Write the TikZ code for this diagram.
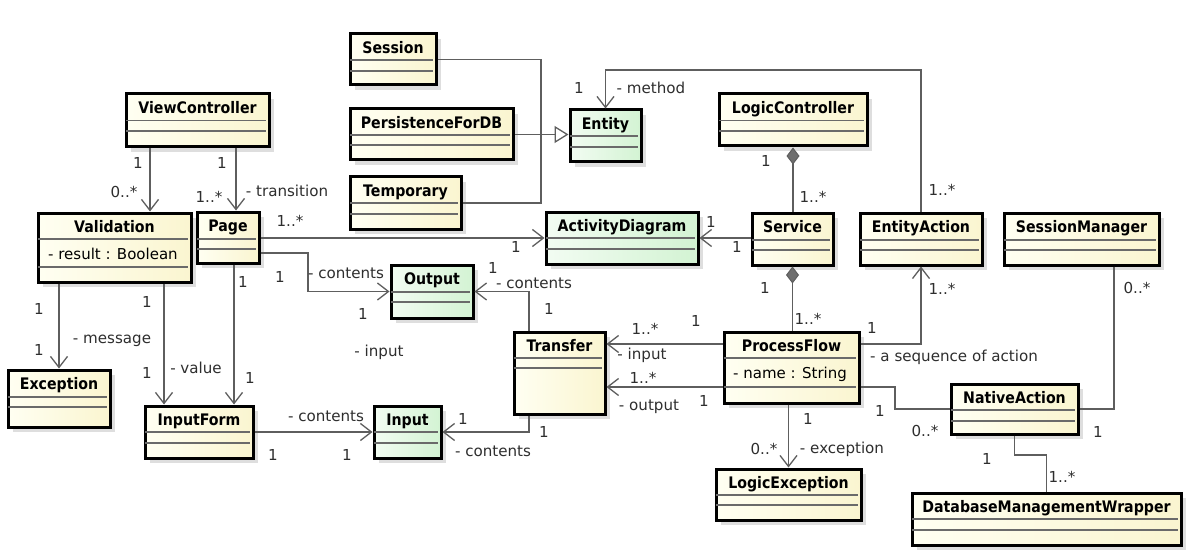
\documentclass[tikz,border=0pt]{standalone}
\usepackage{fontspec}
\setmainfont{DejaVu Sans}
\newfontfamily\namefont[FakeStretch=0.89]{DejaVu Sans}
\usetikzlibrary{arrows.meta,shadows,calc}
\definecolor{ylA}{HTML}{FFFFF2}
\definecolor{ylB}{HTML}{FAF5D0}
\definecolor{grA}{HTML}{F2FCF2}
\definecolor{grB}{HTML}{D3F3D3}
\definecolor{linecol}{HTML}{5E5E5E}
\definecolor{cmpcol}{HTML}{6A6A6A}
\definecolor{lblcol}{HTML}{2E2E2E}
\definecolor{diamcol}{HTML}{6E6E6E}
\tikzset{
  clsbox/.style={draw=black, line width=3pt, inner sep=0pt, text height=19.5pt,
    font=\namefont\bfseries\fontsize{15.9}{18}\selectfont,
    drop shadow={shadow xshift=5pt, shadow yshift=-5pt, fill=black!13, opacity=1}},
  yel/.style={left color=ylA, right color=ylB},
  grn/.style={left color=grA, right color=grB},
  cline/.style={draw=cmpcol, line width=1.2pt},
  assoc/.style={draw=linecol, line width=1.3pt},
  nav/.style={assoc, -{Straight Barb[length=11pt,width=17pt,line width=1.3pt]}},
  genl/.style={assoc, -{Triangle[length=14pt,width=17pt,fill=white,line width=1.3pt]}},
  compo/.style={assoc, {Diamond[length=17pt,width=13pt,fill=diamcol,line width=1pt]}-},
  lbl/.style={inner sep=0pt, text=lblcol, font=\fontsize{15.1}{17}\selectfont},
  attr/.style={inner sep=0pt, text=black, font=\fontsize{15}{17}\selectfont},
}
\newcommand\umlcls[9]{%
  \pgfmathsetmacro\clsw{#4-#2-3}%
  \pgfmathsetmacro\clsh{#5-#3-3}%
  \pgfmathsetmacro\clsd{#5-#3-22.5}%
  \node[clsbox,#6,anchor=north west,minimum width=\clsw pt,minimum height=\clsh pt,text depth=\clsd pt] (#1) at ({#2+1.5},{#3+1.5}) {#7};
  \draw[cline] ({#2+3},#8) -- ({#4-3},#8);
  \draw[cline] ({#2+3},#9) -- ({#4-3},#9);
}
\begin{document}
\begin{tikzpicture}[x=1pt,y=-1pt]
\fill[white] (0,0) rectangle (1200,559);
\useasboundingbox (0,0) rectangle (1200,559);
% classes
\umlcls{session}{347}{31}{436}{85}{yel}{Session}{60}{71}
\umlcls{pdb}{347}{106}{513}{160}{yel}{PersistenceForDB}{135}{145}
\umlcls{temp}{347}{174}{461}{229}{yel}{Temporary}{203}{214}
\umlcls{entity}{567}{107}{641}{162}{grn}{Entity}{136}{147}
\umlcls{vc}{123}{91}{269}{147}{yel}{ViewController}{120.5}{131}
\umlcls{val}{35}{210}{191}{282}{yel}{Validation}{239}{267}
\umlcls{page}{194}{209}{259}{263}{yel}{Page}{239}{249}
\umlcls{ad}{543}{209}{698}{264}{grn}{ActivityDiagram}{238}{249}
\umlcls{lc}{716}{91}{867}{146}{yel}{LogicController}{120.5}{131}
\umlcls{service}{749}{210}{833}{265}{yel}{Service}{240}{250}
\umlcls{ea}{857}{210}{982}{265}{yel}{EntityAction}{240}{250}
\umlcls{sm}{1001}{210}{1159}{265}{yel}{SessionManager}{240}{250}
\umlcls{exc}{5}{367}{110}{427}{yel}{Exception}{397}{407}
\umlcls{if}{142}{403}{253}{458}{yel}{InputForm}{432}{443}
\umlcls{output}{388}{262}{473}{318}{grn}{Output}{292}{302}
\umlcls{transfer}{511}{329}{605}{414}{yel}{Transfer}{358}{368}
\umlcls{input}{371}{403}{441}{458}{grn}{Input}{432}{443}
\umlcls{pf}{721}{329}{859}{403}{yel}{ProcessFlow}{358}{387}
\umlcls{na}{948}{381}{1078}{434}{yel}{NativeAction}{410}{421}
\umlcls{le}{713}{466}{861}{520}{yel}{LogicException}{495}{505}
\umlcls{dbmw}{909}{490}{1181}{545}{yel}{DatabaseManagementWrapper}{519}{530}
% attributes
\node[attr,anchor=west] (valattr) at (48,254) {- result : Boolean};
\node[attr,anchor=west] (pfattr) at (733,374) {- name : String};
% connectors
\draw[nav] (150,0 |- vc.south) -- (150,0 |- val.north);
\draw[nav] (236,0 |- vc.south) -- (236,0 |- page.north);
\draw[assoc] (session.east) -| (541,134);
\draw[assoc] (temp.east) -| (541,134);
\draw[genl] (pdb.east) -- (entity.west |- pdb.east);
\draw[nav] (ea.north) |- (entity.north |- 0,70) -- (entity.north);
\draw[nav] (page.east |- 0,238) -- (ad.west |- 0,238);
\draw[nav] (service.west |- 0,238) -- (ad.east |- 0,238);
\draw[compo] (lc.south) -- (lc.south |- service.north);
\draw[compo] (service.south) -- (service.south |- pf.north);
\draw[nav] (pf.east |- 0,344) -| (ea.south);
\draw[nav] (pf.west |- 0,344) -- (transfer.east |- 0,344);
\draw[nav] (pf.west |- 0,387) -- (transfer.east |- 0,387);
\draw[assoc] (pf.east |- 0,387) -| (895,0 |- na.west) -- (na.west);
\draw[assoc] (1114,0 |- sm.south) |- (na.east);
\draw[assoc] (na.south) |- (dbmw.north |- 0,455) -- (dbmw.north);
\draw[nav] (le.north |- pf.south) -- (le.north);
\draw[nav] (page.east |- 0,253) -| (308,0 |- output.west) -- (output.west);
\draw[nav] (234,0 |- page.south) -- (234,0 |- if.north);
\draw[nav] (exc.north |- val.south) -- (exc.north);
\draw[nav] (164,0 |- val.south) -- (164,0 |- if.north);
\draw[nav] (if.east) -- (input.west);
\draw[nav] (529,0 |- transfer.north) |- (output.east);
\draw[nav] (529,0 |- transfer.south) |- (input.east);
% labels
\node[lbl] (l1) at (138,163) {1};
\node[lbl] (l2) at (124,192) {0..*};
\node[lbl] (l3) at (222,163) {1};
\node[lbl] (l4) at (209,197) {1..*};
\node[lbl] (l5) at (287,191) {- transition};
\node[lbl] (l6) at (290,221) {1..*};
\node[lbl] (l7) at (516,247) {1};
\node[lbl] (l8) at (711,222) {1};
\node[lbl] (l9) at (737,247) {1};
\node[lbl] (l10) at (579,88) {1};
\node[lbl] (l11) at (651,88) {- method};
\node[lbl] (l12) at (942,190) {1..*};
\node[lbl] (l13) at (766,161) {1};
\node[lbl] (l14) at (813,197) {1..*};
\node[lbl] (l15) at (765,288) {1};
\node[lbl] (l16) at (808,319) {1..*};
\node[lbl] (l17) at (872,328) {1};
\node[lbl] (l18) at (942,289) {1..*};
\node[lbl,anchor=west] (l19) at (870,357) {- a sequence of action};
\node[lbl] (l20) at (645,329) {1..*};
\node[lbl] (l21) at (696,321) {1};
\node[lbl] (l22) at (642,355) {- input};
\node[lbl] (l23) at (643,378) {1..*};
\node[lbl] (l24) at (704,401) {1};
\node[lbl] (l25) at (649,407) {- output};
\node[lbl] (l26) at (880,411) {1};
\node[lbl] (l27) at (925,431) {0..*};
\node[lbl] (l28) at (1137,288) {0..*};
\node[lbl] (l29) at (1098,432) {1};
\node[lbl] (l30) at (987,459) {1};
\node[lbl] (l31) at (1062,477) {1..*};
\node[lbl] (l32) at (808,419) {1};
\node[lbl] (l33) at (764,449) {0..*};
\node[lbl] (l34) at (842,449) {- exception};
\node[lbl] (l35) at (280,277) {1};
\node[lbl] (l36) at (346,273) {- contents};
\node[lbl] (l37) at (363,314) {1};
\node[lbl] (l38) at (243,282) {1};
\node[lbl] (l39) at (250,378) {1};
\node[lbl] (l40) at (39,309) {1};
\node[lbl] (l41) at (39,350) {1};
\node[lbl] (l42) at (112,341) {- message};
\node[lbl] (l43) at (147,302) {1};
\node[lbl] (l44) at (147,373) {1};
\node[lbl] (l45) at (196,368) {- value};
\node[lbl] (l46) at (326,416) {- contents};
\node[lbl] (l47) at (273,455) {1};
\node[lbl] (l48) at (347,455) {1};
\node[lbl] (l49) at (493,268) {1};
\node[lbl] (l50) at (534,283) {- contents};
\node[lbl] (l51) at (549,309) {1};
\node[lbl] (l52) at (463,419) {1};
\node[lbl] (l53) at (544,432) {1};
\node[lbl] (l54) at (493,451) {- contents};
\node[lbl] (l55) at (379,352) {- input};
\end{tikzpicture}
\end{document}
